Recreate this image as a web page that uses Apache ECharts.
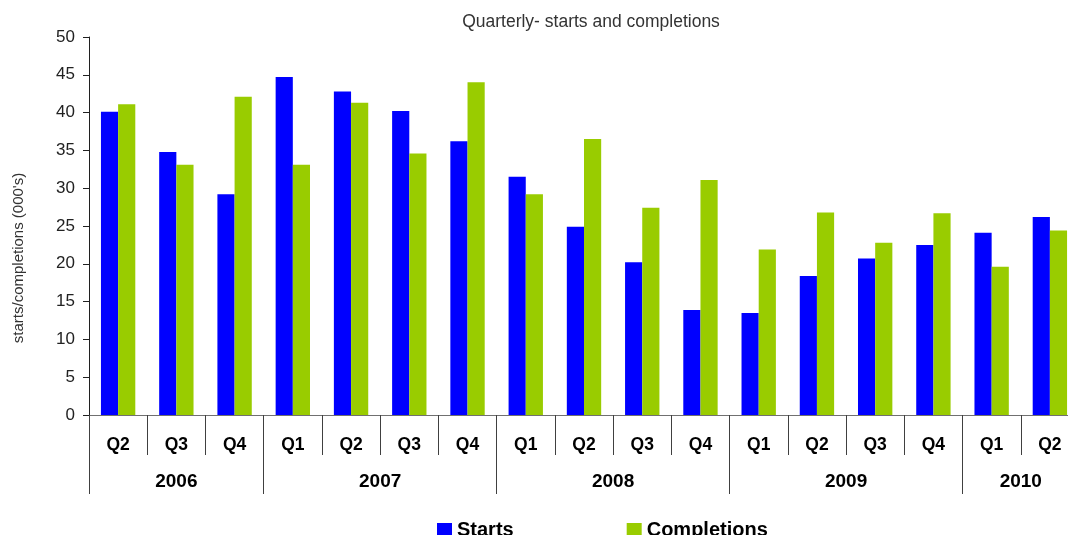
<!DOCTYPE html>
<html>
<head>
<meta charset="utf-8">
<title>Quarterly- starts and completions</title>
<script src="https://cdn.jsdelivr.net/npm/echarts@6/dist/echarts.min.js"></script>
<style>
  html, body { margin: 0; padding: 0; background: #fff; overflow: hidden; }
  #chart { width: 1080px; height: 535px; }
</style>
</head>
<body>
<div id="chart"></div>
<script>
// Quarter labels and the year each group of quarters belongs to
const quarters = ['Q2','Q3','Q4','Q1','Q2','Q3','Q4','Q1','Q2','Q3','Q4','Q1','Q2','Q3','Q4','Q1','Q2'];
const years = ['2006', '2007', '2008', '2009', '2010'];
const quartersPerYear = [3, 4, 4, 4, 2];

// Housing starts and completions (thousands)
const starts      = [40.1, 34.8, 29.2, 44.7, 42.8, 40.2, 36.2, 31.5, 24.9, 20.2, 13.9, 13.5, 18.4, 20.7, 22.5, 24.1, 26.2];
const completions = [41.1, 33.1, 42.1, 33.1, 41.3, 34.6, 44.0, 29.2, 36.5, 27.4, 31.1, 21.9, 26.8, 22.8, 26.7, 19.6, 24.4];

const yTicks = { min: 0, max: 50, interval: 5 };

// Year group boundaries and centres, in quarter units along the x axis
const yearBounds = [0];
quartersPerYear.forEach(n => yearBounds.push(yearBounds[yearBounds.length - 1] + n));
const yearCentres = years.map((y, i) => (yearBounds[i] + yearBounds[i + 1]) / 2);

const FONT = '"Liberation Sans", Arial, sans-serif';

const chart = echarts.init(document.getElementById('chart'), null, { renderer: 'canvas' });

chart.setOption({
  animation: false,
  backgroundColor: '#ffffff',
  title: {
    text: 'Quarterly- starts and completions',
    left: 586,
    top: 8,
    textAlign: 'center',
    textStyle: { fontFamily: FONT, fontSize: 17.5, fontWeight: 'normal', color: '#333333' }
  },
  legend: {
    data: ['Starts', 'Completions'],
    left: 432,
    top: 515,
    icon: 'rect',
    itemWidth: 15,
    itemHeight: 14,
    itemGap: 113,
    textStyle: { fontFamily: FONT, fontSize: 20, fontWeight: 'bold', color: '#000000' }
  },
  grid: { left: 89, right: 1, top: 37, bottom: 120, containLabel: false },
  xAxis: [
    {
      type: 'category',
      data: quarters,
      boundaryGap: true,
      axisLine: { show: true, lineStyle: { color: '#707070', width: 1 } },
      axisTick: { show: true, interval: 0, length: 40, lineStyle: { color: '#404040' } },
      axisLabel: { interval: 0, margin: 21, fontFamily: FONT, fontSize: 17.5, fontWeight: 'bold', color: '#000000' },
      splitLine: { show: false }
    },
    {
      type: 'value',
      position: 'bottom',
      min: 0,
      max: quarters.length,
      axisLine: { show: false },
      axisTick: { show: true, customValues: yearBounds, length: 79, lineStyle: { color: '#404040' } },
      axisLabel: {
        customValues: yearCentres,
        margin: 57,
        fontFamily: FONT, fontSize: 19, fontWeight: 'bold', color: '#000000',
        formatter: v => years[yearCentres.indexOf(v)] || ''
      },
      splitLine: { show: false }
    }
  ],
  yAxis: {
    type: 'value',
    min: yTicks.min,
    max: yTicks.max,
    interval: yTicks.interval,
    name: "starts/completions (000's)",
    nameLocation: 'middle',
    nameGap: 63,
    nameTextStyle: { fontFamily: FONT, fontSize: 15, color: '#333333', padding: [0, 64, 0, 0] },
    axisLine: { show: true, lineStyle: { color: '#202020', width: 1 } },
    axisTick: { show: true, length: 6, lineStyle: { color: '#202020' } },
    axisLabel: { margin: 14, fontFamily: FONT, fontSize: 17, color: '#222222' },
    splitLine: { show: false }
  },
  series: [
    {
      name: 'Starts',
      type: 'bar',
      data: starts,
      barGap: '0%',
      barCategoryGap: '41%',
      itemStyle: { color: '#0000FF' }
    },
    {
      name: 'Completions',
      type: 'bar',
      data: completions,
      barGap: '0%',
      barCategoryGap: '41%',
      itemStyle: { color: '#99CC00' }
    }
  ]
});
</script>
</body>
</html>
